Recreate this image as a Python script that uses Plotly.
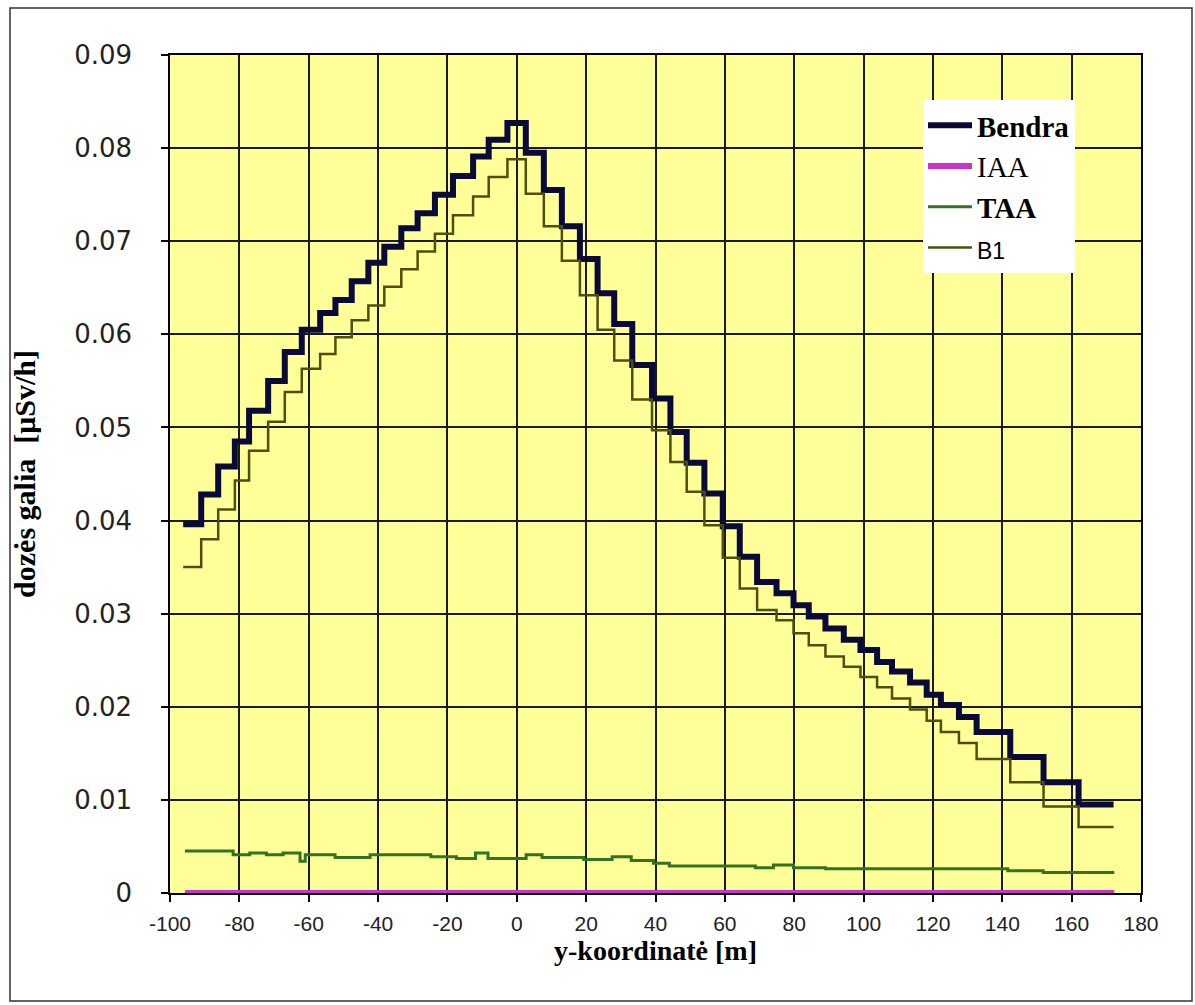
import plotly.graph_objects as go

# ---- data ----
# step edges shared by Bendra and B1 (y-koordinate, m)
step_x = [-96.2, -91.0, -86.1, -81.3, -77.2, -71.7, -66.9, -62.0, -56.7, -52.3,
          -47.6, -42.8, -38.2, -33.3, -28.6, -23.6, -18.4, -12.6, -8.1, -2.7,
          2.6, 7.8, 13.0, 18.2, 23.3, 28.1, 33.3, 39.0, 44.3, 49.0,
          54.1, 59.4, 64.3, 69.3, 74.9, 79.8, 84.2, 89.0, 94.3, 99.1,
          103.9, 108.2, 113.4, 118.2, 122.3, 127.5, 132.6, 142.3, 151.9, 162.0,
          172.1]

bendra = [0.0396, 0.0428, 0.0458, 0.0485, 0.0518, 0.0550, 0.0581, 0.0605, 0.0623, 0.0637,
          0.0657, 0.0677, 0.0694, 0.0714, 0.0730, 0.0750, 0.0770, 0.0791, 0.0809, 0.0827,
          0.0795, 0.0755, 0.0716, 0.0681, 0.0644, 0.0611, 0.0567, 0.0531, 0.0495, 0.0462,
          0.0429, 0.0394, 0.0361, 0.0334, 0.0322, 0.0309, 0.0297, 0.0284, 0.0272, 0.0261,
          0.0248, 0.0238, 0.0226, 0.0213, 0.0202, 0.0189, 0.0173, 0.0146, 0.0119, 0.0095]

b1 = [0.0350, 0.0380, 0.0412, 0.0443, 0.0475, 0.0506, 0.0538, 0.0563, 0.0579, 0.0597,
      0.0615, 0.0631, 0.0651, 0.0670, 0.0689, 0.0708, 0.0728, 0.0748, 0.0769, 0.0788,
      0.0751, 0.0716, 0.0679, 0.0642, 0.0605, 0.0572, 0.0530, 0.0497, 0.0463, 0.0431,
      0.0395, 0.0360, 0.0327, 0.0304, 0.0293, 0.0279, 0.0266, 0.0254, 0.0243, 0.0232,
      0.0221, 0.0209, 0.0197, 0.0185, 0.0173, 0.0161, 0.0144, 0.0119, 0.0093, 0.0071]

taa_x = [-95.7, -81.8, -77.0, -72.2, -67.4, -62.5, -61.0, -52.4, -42.3, -24.8,
         -17.4, -11.9, -8.3, 2.7, 7.3, 19.3, 27.5, 33.0, 39.4, 44.0,
         68.8, 74.0, 79.8, 89.0, 141.6, 151.8, 172.3]
taa = [0.0045, 0.0041, 0.0043, 0.0041, 0.0043, 0.0034, 0.0041, 0.0038, 0.0041, 0.0039,
       0.0037, 0.0043, 0.0037, 0.0041, 0.0038, 0.0036, 0.0039, 0.0035, 0.0032, 0.0029,
       0.0027, 0.0030, 0.0027, 0.0026, 0.0024, 0.0022]

iaa_x = [-95.7, 172.3]
iaa = [0.0, 0.0]

x_ticks = [-100, -80, -60, -40, -20, 0, 20, 40, 60, 80, 100, 120, 140, 160, 180]
y_ticks = [0, 0.01, 0.02, 0.03, 0.04, 0.05, 0.06, 0.07, 0.08, 0.09]
y_tick_text = ["0", "0.01", "0.02", "0.03", "0.04", "0.05", "0.06", "0.07", "0.08", "0.09"]

names = ["<b>Bendra</b>", "IAA", "<b>TAA</b>",
         '<span style="font-family:Liberation Sans, Arial, sans-serif;font-size:23px">B1</span>']

# ---- figure ----
def steps(y):
    return list(y) + [y[-1]]

fig = go.Figure()
fig.add_trace(go.Scatter(x=step_x, y=steps(bendra), mode="lines", line_shape="hv",
                         name=names[0], line=dict(color="#0a0a38", width=6)))
fig.add_trace(go.Scatter(x=iaa_x, y=iaa, mode="lines",
                         name=names[1], line=dict(color="#cc33cc", width=6)))
fig.add_trace(go.Scatter(x=taa_x, y=steps(taa), mode="lines", line_shape="hv",
                         name=names[2], line=dict(color="#33721e", width=3)))
fig.add_trace(go.Scatter(x=step_x, y=steps(b1), mode="lines", line_shape="hv",
                         name=names[3], line=dict(color="#4f4f0c", width=2.5)))

L, R, T, B = 170, 54, 55, 112
W, H = 1195, 1005
pw, ph = W - L - R, H - T - B

fig.update_layout(
    width=W, height=H,
    margin=dict(l=L, r=R, t=T, b=B),
    paper_bgcolor="white",
    plot_bgcolor="#FFFF99",
    showlegend=True,
    legend=dict(
        x=(923 - L) / pw, y=(H - B - 100) / ph, xanchor="left", yanchor="top",
        bgcolor="white", borderwidth=0,
        font=dict(family="Liberation Serif, Times New Roman, serif", size=29, color="black"),
        itemwidth=44, tracegroupgap=0,
    ),
    xaxis=dict(
        range=[-100, 180], tickvals=x_ticks, ticktext=[str(v) for v in x_ticks],
        showgrid=True, gridcolor="#1a1a1a", gridwidth=1.5,
        showline=True, linecolor="black", linewidth=1.5, mirror=True,
        ticks="outside", ticklen=7, tickcolor="black", tickwidth=1.5,
        tickfont=dict(family="Liberation Sans, Arial, sans-serif", size=21, color="#222"),
        ticklabelstandoff=4,
        zeroline=False, layer="below traces",
        title=dict(text="<b>y-koordinatė [m]</b>", standoff=6,
                   font=dict(family="Liberation Serif, Times New Roman, serif", size=28, color="black")),
    ),
    yaxis=dict(
        range=[0, 0.09], tickvals=y_ticks, ticktext=y_tick_text,
        showgrid=True, gridcolor="#1a1a1a", gridwidth=1.5,
        showline=True, linecolor="black", linewidth=1.5, mirror=True,
        ticks="outside", ticklen=7, tickcolor="black", tickwidth=1.5,
        tickfont=dict(family="DejaVu Sans, Verdana, sans-serif", size=26, color="#222"),
        ticklabelstandoff=24,
        zeroline=False, layer="below traces",
        title=dict(text="<b>dozės galia  [μSv/h]</b>", standoff=30,
                   font=dict(family="Liberation Serif, Times New Roman, serif", size=30, color="black")),
    ),
    shapes=[dict(type="rect", xref="paper", yref="paper",
                 x0=(10 - L) / pw, x1=(1192 - L) / pw,
                 y0=(H - B - 1001) / ph, y1=(H - B - 8) / ph,
                 line=dict(color="#333", width=1.5), fillcolor="rgba(0,0,0,0)", layer="below")],
)

fig.write_html("out.html", config={"displayModeBar": False},
               post_script="document.body.style.margin='0';document.body.style.overflow='hidden';")
